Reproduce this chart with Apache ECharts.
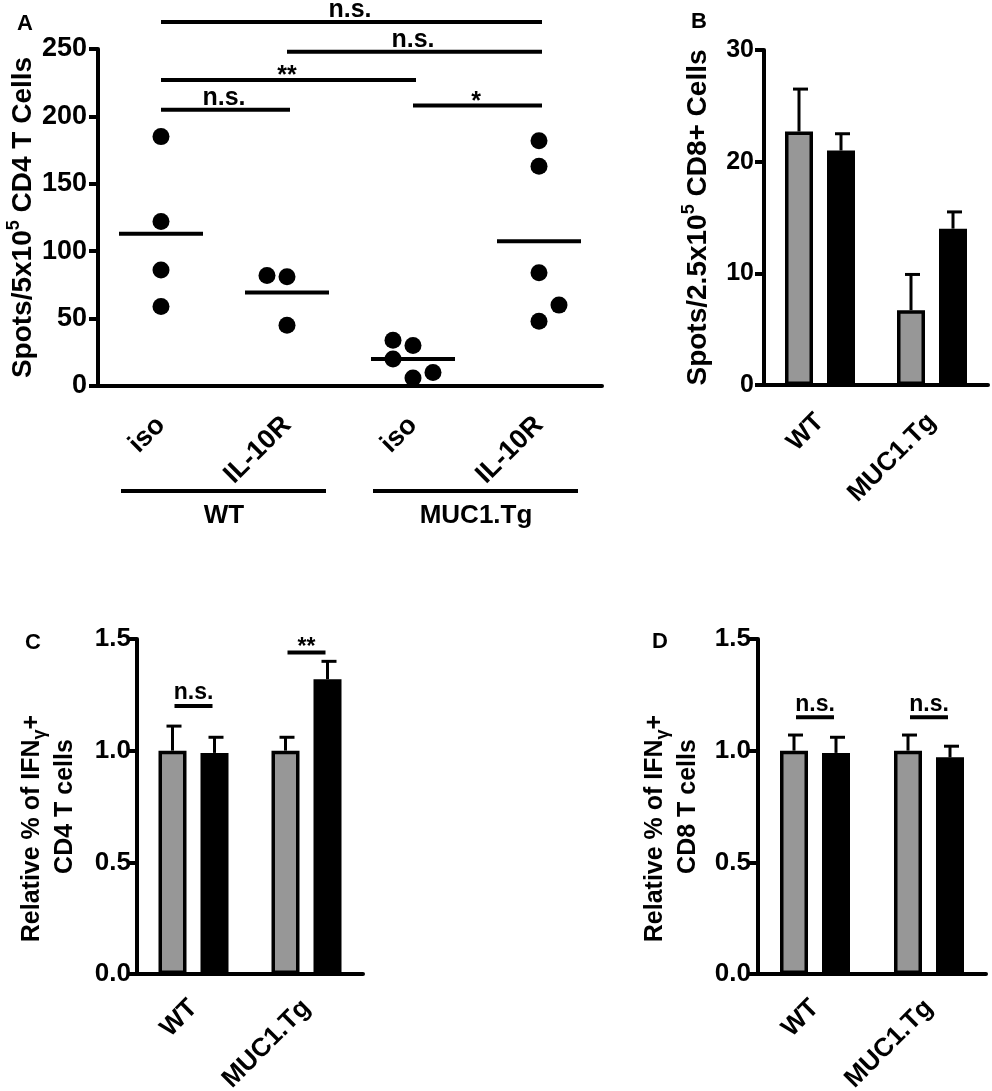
<!DOCTYPE html>
<html>
<head>
<meta charset="utf-8">
<title>IL-10R blockade - ELISpot and IFNγ+ T cells</title>
<script src="https://cdn.jsdelivr.net/npm/echarts@6/dist/echarts.min.js"></script>
<style>
  html, body { margin: 0; padding: 0; background: #fff; }
  #main { width: 992px; height: 1091px; }
</style>
</head>
<body>
<div id="main"></div>
<script>
// A: spots per 5x10^5 CD4 T cells, one dot per mouse
var groupsA = ['iso', 'IL-10R', 'iso', 'IL-10R'];
var strainsA = ['WT', 'MUC1.Tg'];
var isoWT = [185, 122, 86, 59];
var il10rWT = [82, 81, 45];
var isoTg = [34, 30, 20, 10, 6];
var il10rTg = [182, 163, 84, 60, 48];
// comparison bars of A: from group, to group, height
var sigA = [[0, 3, 270], [1, 3, 248], [0, 2, 227], [0, 1, 205], [2, 3, 208]];
var sigTextA = ['n.s.', 'n.s.', '**', 'n.s.', '*'];

// B, C, D: grey and black bar per strain, with SEM
var strains = ['WT', 'MUC1.Tg'];
var greyB = [22.7, 6.7], greyErrB = [3.8, 3.2];
var blackB = [21.0, 14.0], blackErrB = [1.5, 1.5];
var greyC = [1.0, 1.0], greyErrC = [0.11, 0.06];
var blackC = [0.99, 1.32], blackErrC = [0.07, 0.08];
var greyD = [1.0, 1.0], greyErrD = [0.07, 0.07];
var blackD = [0.99, 0.97], blackErrD = [0.07, 0.05];
var sigC = [[0, 1.2], [1, 1.44]];
var sigTextC = ['n.s.', '**'];
var sigD = [[0, 1.15], [1, 1.15]];
var sigTextD = ['n.s.', 'n.s.'];

var FONT = '"Liberation Sans", Arial, Helvetica, sans-serif';
var GREY = '#979797';

var chart = echarts.init(document.getElementById('main'));

function xAxisOf(idx, cats, size, margin) {
  return {
    type: 'category', gridIndex: idx, data: cats,
    axisLine: { lineStyle: { color: '#000', width: 4 } },
    axisTick: { alignWithLabel: true, length: 9, lineStyle: { color: '#000', width: 4 } },
    axisLabel: { rotate: 45, interval: 0, margin: margin, color: '#000', fontSize: size, fontWeight: 'bold', fontFamily: FONT },
    splitLine: { show: false }
  };
}

function yAxisOf(idx, max, step, name, nameStyle, gap, size, margin, digits) {
  return {
    type: 'value', gridIndex: idx, min: 0, max: max, interval: step,
    name: name, nameLocation: 'middle', nameRotate: 90, nameGap: gap, nameMoveOverlap: false,
    nameTextStyle: nameStyle,
    axisLine: { show: true, lineStyle: { color: '#000', width: 4 } },
    axisTick: { show: true, length: 9, lineStyle: { color: '#000', width: 4 } },
    axisLabel: {
      margin: margin, color: '#000', fontSize: size, fontWeight: 'bold', fontFamily: FONT,
      formatter: function (v) { return digits ? v.toFixed(digits) : String(v); }
    },
    splitLine: { show: false }
  };
}

function tok(size, lh, va) {
  var s = { color: '#000', fontSize: size, fontWeight: 'bold', fontFamily: FONT, lineHeight: lh };
  if (va) s.verticalAlign = va;
  return s;
}

// axis titles as rich text, every run styled so it is measured bold
var titleAB = tok(28, 36);
titleAB.rich = { t: tok(28, 36), sup: tok(18, 18, 'top') };
var titleCD = tok(25, 33);
titleCD.rich = { t: tok(25, 33), sub: tok(18, 20, 'bottom'), pad: { width: 44, fontSize: 25, lineHeight: 33 } };

// dots of A, nudged sideways like the Prism scatter
var colsA = [isoWT, il10rWT, isoTg, il10rTg];
var nudgeA = [[0, 0, 0, 0], [-20, 0, 0], [-20, 0, -20, 20, 0], [0, 0, 0, 20, 0]];
var dotData = [];
var meanData = [];
colsA.forEach(function (vals, i) {
  var sum = 0;
  vals.forEach(function (v, j) {
    dotData.push({ value: [i, v], symbolOffset: [nudgeA[i][j], 0] });
    sum += v;
  });
  meanData.push([i, sum / vals.length]);
});

function barPair(idx, grey, black) {
  var common = { type: 'bar', xAxisIndex: idx, yAxisIndex: idx, barWidth: 28, barGap: '50%' };
  return [
    Object.assign({ data: grey, itemStyle: { color: GREY, borderColor: '#000', borderWidth: 3.5 } }, common),
    Object.assign({ data: black, itemStyle: { color: '#000', borderColor: '#000', borderWidth: 3.5 } }, common)
  ];
}

function errSeries(idx, grey, greyErr, black, blackErr) {
  var data = [];
  grey.forEach(function (v, i) { data.push([i, v, v + greyErr[i], -1]); });
  black.forEach(function (v, i) { data.push([i, v, v + blackErr[i], 1]); });
  return {
    type: 'custom', xAxisIndex: idx, yAxisIndex: idx, data: data, z: 3, silent: true,
    renderItem: function (params, api) {
      var base = api.coord([api.value(0), api.value(1)]);
      var top = api.coord([api.value(0), api.value(2)]);
      var x = base[0] + api.value(3) * 21;
      return { type: 'group', children: [
        { type: 'line', shape: { x1: x, y1: base[1], x2: x, y2: top[1] }, style: { stroke: '#000', lineWidth: 3 } },
        { type: 'line', shape: { x1: x - 6, y1: top[1], x2: x + 9, y2: top[1] }, style: { stroke: '#000', lineWidth: 3 } }
      ] };
    }
  };
}

function labelNudge(t) { return t.indexOf('n') >= 0 ? 13 : 5; }

function sigShort(idx, data, texts) {
  return {
    type: 'custom', xAxisIndex: idx, yAxisIndex: idx, data: data, z: 3, silent: true, clip: false,
    renderItem: function (params, api) {
      var p = api.coord([api.value(0), api.value(1)]);
      var t = texts[params.dataIndex];
      return { type: 'group', children: [
        { type: 'line', shape: { x1: p[0] - 19, y1: p[1], x2: p[0] + 19, y2: p[1] }, style: { stroke: '#000', lineWidth: 4 } },
        { type: 'text', x: p[0], y: p[1] - labelNudge(t), style: { text: t, align: 'center', verticalAlign: 'middle', fill: '#000', fontSize: 23, fontWeight: 'bold', fontFamily: FONT } }
      ] };
    }
  };
}

var option = {
  backgroundColor: '#fff',
  animation: false,
  title: [
    { text: 'A', left: 12, top: 8 },
    { text: 'B', left: 686, top: 6 },
    { text: 'C', left: 20, top: 627 },
    { text: 'D', left: 647, top: 626 }
  ].map(function (t) {
    t.textStyle = { color: '#000', fontSize: 22, fontWeight: 'bold', fontFamily: FONT };
    return t;
  }),
  grid: [
    { left: 98, top: 49, width: 504, height: 337, outerBoundsMode: 'none' },
    { left: 764, top: 50, width: 224, height: 335, outerBoundsMode: 'none' },
    { left: 137, top: 639, width: 226, height: 335, outerBoundsMode: 'none' },
    { left: 758, top: 639, width: 228, height: 335, outerBoundsMode: 'none' }
  ],
  xAxis: [
    xAxisOf(0, groupsA, 27, 35),
    xAxisOf(1, strains, 26, 33),
    xAxisOf(2, strains, 26, 30),
    xAxisOf(3, strains, 26, 30)
  ],
  yAxis: [
    yAxisOf(0, 250, 50, '{t|Spots/5x10}{sup|5}{t| CD4 T Cells}', titleAB, 57, 27, 11, 0),
    yAxisOf(1, 30, 10, '{t|Spots/2.5x10}{sup|5}{t| CD8+ Cells}', titleAB, 48, 25, 10, 0),
    yAxisOf(2, 1.5, 0.5, '{t|Relative % of IFN}{sub|γ}{t|+}{pad| }\n{t|CD4 T cells}', titleCD, 55, 26, 6, 1),
    yAxisOf(3, 1.5, 0.5, '{t|Relative % of IFN}{sub|γ}{t|+}{pad| }\n{t|CD8 T cells}', titleCD, 53, 26, 7, 1)
  ],
  series: [
    {
      type: 'scatter', xAxisIndex: 0, yAxisIndex: 0, data: dotData,
      symbol: 'circle', symbolSize: 17, itemStyle: { color: '#000', opacity: 1 }, z: 3
    },
    {
      type: 'scatter', xAxisIndex: 0, yAxisIndex: 0, data: meanData,
      symbol: 'rect', symbolSize: [84, 4], itemStyle: { color: '#000', opacity: 1 }, z: 3
    },
    {
      type: 'custom', xAxisIndex: 0, yAxisIndex: 0, data: sigA, z: 3, silent: true, clip: false,
      renderItem: function (params, api) {
        var a = api.coord([api.value(0), api.value(2)]);
        var b = api.coord([api.value(1), api.value(2)]);
        var t = sigTextA[params.dataIndex];
        return { type: 'group', children: [
          { type: 'line', shape: { x1: a[0], y1: a[1], x2: b[0] + 3, y2: b[1] }, style: { stroke: '#000', lineWidth: 4 } },
          { type: 'text', x: (a[0] + b[0]) / 2, y: a[1] - labelNudge(t) + 1, style: { text: t, align: 'center', verticalAlign: 'middle', fill: '#000', fontSize: 25, fontWeight: 'bold', fontFamily: FONT } }
        ] };
      }
    },
    {
      // strain brackets under the group labels of A
      type: 'custom', xAxisIndex: 0, yAxisIndex: 0, data: [[0, 1], [2, 3]], z: 3, silent: true, clip: false,
      renderItem: function (params, api) {
        var a = api.coord([api.value(0), 0]);
        var b = api.coord([api.value(1), 0]);
        return { type: 'group', children: [
          { type: 'line', shape: { x1: a[0] - 40, y1: a[1] + 105, x2: b[0] + 39, y2: a[1] + 105 }, style: { stroke: '#000', lineWidth: 4 } },
          { type: 'text', x: (a[0] + b[0]) / 2, y: a[1] + 130, style: { text: strainsA[params.dataIndex], align: 'center', verticalAlign: 'middle', fill: '#000', fontSize: 26, fontWeight: 'bold', fontFamily: FONT } }
        ] };
      }
    }
  ]
    .concat(barPair(1, greyB, blackB))
    .concat([errSeries(1, greyB, greyErrB, blackB, blackErrB)])
    .concat(barPair(2, greyC, blackC))
    .concat([errSeries(2, greyC, greyErrC, blackC, blackErrC), sigShort(2, sigC, sigTextC)])
    .concat(barPair(3, greyD, blackD))
    .concat([errSeries(3, greyD, greyErrD, blackD, blackErrD), sigShort(3, sigD, sigTextD)])
};

chart.setOption(option);
</script>
</body>
</html>
